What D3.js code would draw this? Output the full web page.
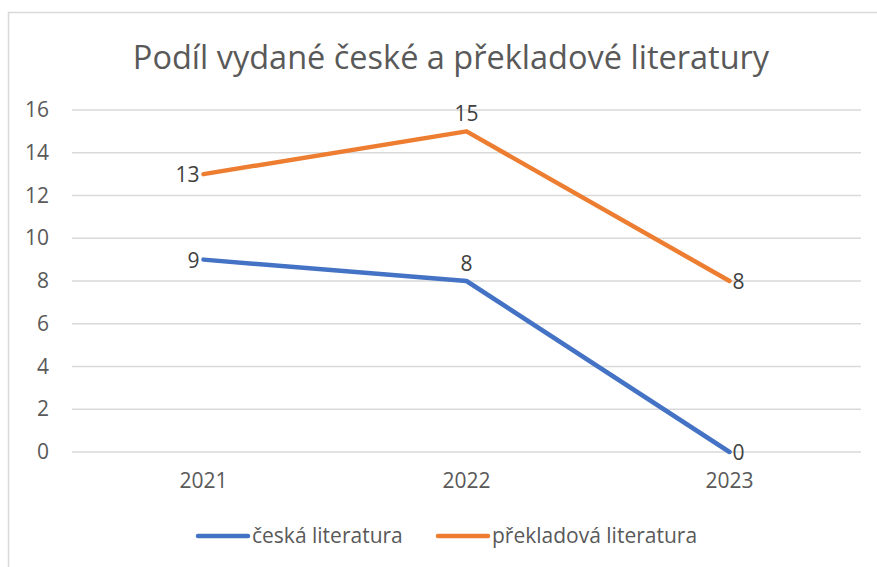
<!DOCTYPE html>
<html>
<head>
<meta charset="utf-8">
<script src="https://cdn.jsdelivr.net/npm/d3@7"></script>
<style>
  body { margin: 0; background: #fff; }
  svg text { font-family: "Open Sans", "Noto Sans", sans-serif; fill: #595959; }
</style>
</head>
<body>
<div id="chart"></div>
<script>
const title = 'Podíl vydané české a překladové literatury';
const years = ['2021', '2022', '2023'];
const seriesNames = ['česká literatura', 'překladová literatura'];
const ceska = [9, 8, 0];
const prekladova = [13, 15, 8];
const yTicks = [0, 2, 4, 6, 8, 10, 12, 14, 16];
// where each data label sits relative to its point
const ceskaLabelPos = ['left', 'above', 'right'];
const prekladovaLabelPos = ['left', 'above', 'right'];

const W = 877, H = 567;
const margin = {top: 110, right: 16, bottom: 115, left: 72};
const width = W - margin.left - margin.right,
  height = H - margin.top - margin.bottom;
const colors = ['#4472C4', '#ED7D31'];
const fs = '21px';

const svg = d3.select('#chart').append('svg')
  .attr('width', W).attr('height', H);

// outer chart border (cropped on right/bottom)
svg.append('path')
  .attr('d', `M8.5,${H} V12.5 H${W}`)
  .attr('fill', 'none').attr('stroke', '#d9d9d9').attr('stroke-width', 1.5);

svg.append('text')
  .attr('x', 451).attr('y', 69)
  .attr('text-anchor', 'middle')
  .style('font-size', '32.5px')
  .text(title);

const g = svg.append('g').attr('transform', `translate(${margin.left},${margin.top})`);

const x = d3.scaleBand().domain(years).range([0, width]);
const y = d3.scaleLinear().domain([0, 16]).range([height, 0]);

g.append('g').attr('class', 'grid')
  .selectAll('line').data(yTicks).join('line')
  .attr('x1', 0).attr('x2', width)
  .attr('y1', d => y(d)).attr('y2', d => y(d))
  .attr('stroke', '#d9d9d9').attr('stroke-width', 1.3);

const yAxis = g.append('g').call(d3.axisLeft(y).tickValues(yTicks).tickSize(0).tickPadding(23));
yAxis.select('.domain').remove();
yAxis.selectAll('text').style('font-size', fs).attr('fill', '#595959').attr('font-family', null);

const xAxis = g.append('g').attr('transform', `translate(0,${height})`)
  .call(d3.axisBottom(x).tickSize(0).tickPadding(21));
xAxis.select('.domain').remove();
xAxis.selectAll('text').style('font-size', fs).attr('fill', '#595959').attr('font-family', null);

const series = [
  {name: seriesNames[0], values: ceska, pos: ceskaLabelPos, color: colors[0]},
  {name: seriesNames[1], values: prekladova, pos: prekladovaLabelPos, color: colors[1]}
];

const line = d3.line()
  .x((d, i) => x(years[i]) + x.bandwidth() / 2)
  .y(d => y(d));

g.selectAll('.series').data(series).join('path')
  .attr('class', 'series')
  .attr('d', d => line(d.values))
  .attr('fill', 'none')
  .attr('stroke', d => d.color)
  .attr('stroke-width', 4.5)
  .attr('stroke-linecap', 'round')
  .attr('stroke-linejoin', 'round');

series.forEach(s => {
  g.append('g').selectAll('text').data(s.values).join('text')
    .attr('x', (d, i) => {
      let cx = x(years[i]) + x.bandwidth() / 2;
      if (s.pos[i] === 'left') return cx - 4;
      if (s.pos[i] === 'right') return cx + 3;
      return cx;
    })
    .attr('y', (d, i) => s.pos[i] === 'above' ? y(d) - 10 : y(d) + 8)
    .attr('text-anchor', (d, i) => s.pos[i] === 'left' ? 'end' : s.pos[i] === 'right' ? 'start' : 'middle')
    .style('font-size', fs)
    .style('fill', '#404040')
    .text(d => d);
});

// legend
const legend = svg.append('g').attr('transform', `translate(0,536)`);
const legendX = [196, 436];
series.forEach((s, i) => {
  legend.append('line')
    .attr('x1', legendX[i] + 2).attr('x2', legendX[i] + 52)
    .attr('y1', 0).attr('y2', 0)
    .attr('stroke', s.color).attr('stroke-width', 4.5).attr('stroke-linecap', 'round');
  legend.append('text')
    .attr('x', legendX[i] + 56).attr('y', 7)
    .style('font-size', fs)
    .text(s.name);
});
</script>
</body>
</html>
